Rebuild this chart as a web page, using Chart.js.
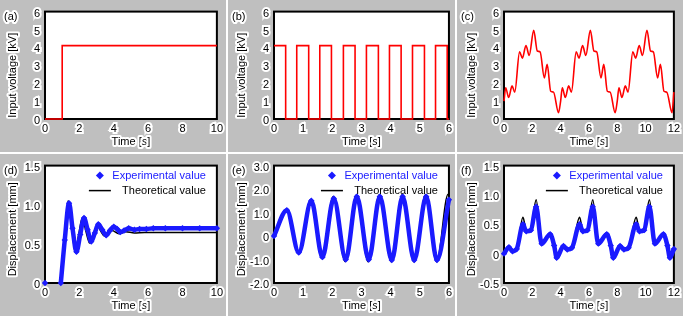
<!DOCTYPE html>
<html><head><meta charset="utf-8">
<script src="https://cdn.jsdelivr.net/npm/chart.js@4.4.1/dist/chart.umd.min.js"></script>
<style>
html,body{margin:0;padding:0;background:#fff;width:685px;height:316px;overflow:hidden}
.p{position:absolute;background:#bfbfbf}
canvas{position:absolute;left:0;top:0}
</style></head><body>
<div class="p" style="left:0px;top:0px;width:226px;height:152px"><canvas id="ca" width="226" height="152"></canvas></div>
<div class="p" style="left:228px;top:0px;width:227px;height:152px"><canvas id="cb" width="227" height="152"></canvas></div>
<div class="p" style="left:457px;top:0px;width:226px;height:152px"><canvas id="cc" width="226" height="152"></canvas></div>
<div class="p" style="left:0px;top:154px;width:226px;height:162px"><canvas id="cd" width="226" height="162"></canvas></div>
<div class="p" style="left:228px;top:154px;width:227px;height:162px"><canvas id="ce" width="227" height="162"></canvas></div>
<div class="p" style="left:457px;top:154px;width:226px;height:162px"><canvas id="cf" width="226" height="162"></canvas></div>
<script>
// ---------- tick labels ----------
const voltTicks = ['0','1','2','3','4','5','6'];
const time10Ticks = ['0','2','4','6','8','10'];
const time6Ticks = ['0','1','2','3','4','5','6'];
const time12Ticks = ['0','2','4','6','8','10','12'];
const dispDTicks = ['0','0.5','1.0','1.5'];
const dispETicks = ['-2.0','-1.0','0','1.0','2.0','3.0'];
const dispFTicks = ['-0.5','0','0.5','1.0','1.5'];

// ---------- (a) step input ----------
const aTime = [0, 1, 1, 10];
const aVolt = [0, 0, 4.1, 4.1];

// ---------- (b) square wave input ----------
const bTime = [0, 0.40, 0.40, 0.78, 0.78, 1.19, 1.19, 1.57, 1.57, 1.97, 1.97, 2.38, 2.38, 2.78, 2.78, 3.17, 3.17, 3.58, 3.58, 3.96, 3.96, 4.36, 4.36, 4.75, 4.75, 5.16, 5.16, 5.54, 5.54, 5.94, 5.94, 6.0];
const bVolt = [4.1, 4.1, 0, 0, 4.1, 4.1, 0, 0, 4.1, 4.1, 0, 0, 4.1, 4.1, 0, 0, 4.1, 4.1, 0, 0, 4.1, 4.1, 0, 0, 4.1, 4.1, 0, 0, 4.1, 4.1, 0, 0];

// ---------- (c) complex input ----------
const cTime = [0, 0.12, 0.33, 0.57, 0.76, 1.10, 1.30, 1.55, 1.78, 2.10, 2.35, 2.55, 2.85, 3.05, 3.30, 3.50, 3.85,
               4.00, 4.12, 4.33, 4.57, 4.76, 5.10, 5.30, 5.55, 5.78, 6.10, 6.35, 6.55, 6.85, 7.05, 7.30, 7.50, 7.85,
               8.00, 8.12, 8.33, 8.57, 8.76, 9.10, 9.30, 9.55, 9.78, 10.10, 10.35, 10.55, 10.85, 11.05, 11.30, 11.50, 11.87, 12.0];
const cVolt = [1.0, 1.75, 1.2, 1.85, 1.5, 3.75, 3.4, 4.1, 3.55, 4.95, 3.8, 3.75, 2.3, 3.05, 1.55, 1.5, 0.35,
               1.0, 1.75, 1.2, 1.85, 1.5, 3.75, 3.4, 4.1, 3.55, 4.95, 3.8, 3.75, 2.3, 3.05, 1.55, 1.5, 0.35,
               1.0, 1.75, 1.2, 1.85, 1.5, 3.75, 3.4, 4.1, 3.55, 4.95, 3.8, 3.75, 2.3, 3.05, 1.55, 1.5, 0.35, 1.5];

// ---------- (d) step response ----------
const dExpTime = [0, 0.46, 0.92, 1.15, 1.40, 1.60, 1.83, 2.05, 2.27, 2.48, 2.69, 2.90, 3.10, 3.33, 3.56, 3.78, 4.00, 4.20, 4.38, 4.60, 4.87, 5.20, 5.50, 5.90, 6.30, 7.0, 8.0, 9.0, 10.0];
const dExpDisp = [0, null, 0, 0.55, 1.02, 0.70, 0.40, 0.62, 0.83, 0.68, 0.53, 0.64, 0.75, 0.68, 0.61, 0.67, 0.72, 0.69, 0.65, 0.67, 0.70, 0.68, 0.69, 0.69, 0.70, 0.70, 0.70, 0.70, 0.70];
const dTheoTime = [0, 0.95, 1.15, 1.35, 1.55, 1.75, 1.96, 2.17, 2.38, 2.60, 2.82, 3.04, 3.25, 3.45, 3.70, 3.90, 4.30, 4.70, 5.20, 5.80, 7.0, 10.0];
const dTheoDisp = [0, 0, 0.60, 1.05, 0.75, 0.40, 0.62, 0.83, 0.66, 0.51, 0.63, 0.73, 0.66, 0.60, 0.65, 0.67, 0.63, 0.655, 0.64, 0.645, 0.645, 0.645];

// ---------- (e) square-wave response ----------
const eExpTime = [0, 0.44, 0.85, 1.28, 1.66, 2.05, 2.46, 2.84, 3.25, 3.63, 4.04, 4.41, 4.81, 5.22, 5.59, 6.0];
const eExpDisp = [0, 1.10, -0.70, 1.50, -0.90, 1.60, -1.00, 1.68, -1.00, 1.68, -1.02, 1.68, -1.02, 1.68, -1.02, 1.55];
const eTheoTime = [0, 0.43, 0.83, 1.26, 1.64, 2.03, 2.44, 2.82, 3.23, 3.61, 4.02, 4.40, 4.80, 5.20, 5.58, 5.97, 6.0];
const eTheoDisp = [0, 1.12, -0.72, 1.55, -0.95, 1.68, -1.08, 1.75, -1.10, 1.76, -1.10, 1.77, -1.10, 1.77, -1.10, 1.78, 1.77];

// ---------- (f) complex response ----------
const fExpTime = [0, 0.35, 0.60, 0.90, 1.34, 1.57, 1.90, 2.27, 2.66, 3.26, 3.54, 3.72,
                  4.20, 4.47, 4.80, 5.34, 5.57, 5.90, 6.27, 6.66, 7.26, 7.54, 7.72,
                  8.20, 8.47, 8.80, 9.34, 9.57, 9.90, 10.27, 10.66, 11.26, 11.54, 11.72, 12.0];
const fExpDisp = [0, 0.11, 0.04, 0.08, 0.50, 0.38, 0.40, 0.80, 0.17, 0.33, 0.14, -0.07,
                  0.13, 0.07, 0.10, 0.50, 0.38, 0.40, 0.80, 0.17, 0.33, 0.14, -0.07,
                  0.13, 0.07, 0.10, 0.50, 0.38, 0.40, 0.80, 0.17, 0.33, 0.14, -0.07, 0.08];
const fTheoTime = [0, 0.35, 0.60, 0.90, 1.34, 1.57, 1.90, 2.27, 2.66, 3.26, 3.54, 3.72,
                   4.20, 4.47, 4.80, 5.34, 5.57, 5.90, 6.27, 6.66, 7.26, 7.54, 7.72,
                   8.20, 8.47, 8.80, 9.34, 9.57, 9.90, 10.27, 10.66, 11.26, 11.54, 11.72, 12.0];
const fTheoDisp = [0, 0.11, 0.04, 0.08, 0.62, 0.40, 0.42, 0.92, 0.17, 0.35, 0.14, -0.07,
                   0.13, 0.07, 0.10, 0.62, 0.40, 0.42, 0.92, 0.17, 0.35, 0.14, -0.07,
                   0.13, 0.07, 0.10, 0.62, 0.40, 0.42, 0.92, 0.17, 0.35, 0.14, -0.07, 0.08];

// ---------- helpers ----------
const FONT = "'Liberation Sans', Arial, Helvetica, sans-serif";
const RED = '#ff0000', BLUE = '#1a1aff', BLACK = '#000000';
function pts(t, v) { return t.map((x, i) => ({ x: x, y: v[i] })); }

function halo(ctx, text, x, y, color) {
  ctx.lineJoin = 'round';
  ctx.lineWidth = 4;
  ctx.strokeStyle = '#ffffff';
  ctx.strokeText(text, x, y);
  ctx.fillStyle = color;
  ctx.fillText(text, x, y);
}

const deco = {
  id: 'deco',
  beforeDatasetsDraw(chart) {
    const a = chart.chartArea, c = chart.ctx;
    c.save();
    c.fillStyle = '#ffffff';
    c.fillRect(a.left, a.top, a.right - a.left, a.bottom - a.top);
    c.lineWidth = 2;
    c.strokeStyle = '#000';
    c.strokeRect(a.left, a.top, a.right - a.left, a.bottom - a.top);
    c.restore();
  },
  afterDraw(chart, args, o) {
    const a = chart.chartArea, c = chart.ctx;
    c.save();
    c.font = '11px ' + FONT;
    c.textBaseline = 'middle';
    // panel label
    c.textAlign = 'left';
    halo(c, o.label, 4, a.top + 5, '#000');
    // x title: Time [s] with italic s
    const p1 = 'Time [', p2 = 's', p3 = ']';
    c.font = '11px ' + FONT;
    const w1 = c.measureText(p1).width, w3 = c.measureText(p3).width;
    c.font = 'italic 11px ' + FONT;
    const w2 = c.measureText(p2).width;
    const tw = w1 + w2 + w3;
    let x = (a.left + a.right) / 2 - tw / 2;
    const y = a.bottom + 23;
    c.font = '11px ' + FONT; halo(c, p1, x, y, '#000'); x += w1;
    c.font = 'italic 11px ' + FONT; halo(c, p2, x, y, '#000'); x += w2;
    c.font = '11px ' + FONT; halo(c, p3, x, y, '#000');
    // y title
    c.save();
    c.translate(a.left - 32, (a.top + a.bottom) / 2 + o.yShift);
    c.rotate(-Math.PI / 2);
    c.textAlign = 'center';
    c.font = '11px ' + FONT;
    halo(c, o.yTitle, 0, 0, '#000');
    c.restore();
    // legend
    if (o.legend) {
      const r = a.right;
      const y1 = a.top + 10, y2 = a.top + 25;
      c.fillStyle = BLUE;
      const mx = r - 117, s = 4;
      c.beginPath();
      c.moveTo(mx, y1 - s); c.lineTo(mx + s, y1); c.lineTo(mx, y1 + s); c.lineTo(mx - s, y1); c.closePath();
      c.fill();
      c.textAlign = 'right';
      c.font = '11px ' + FONT;
      c.fillStyle = BLUE;
      c.fillText('Experimental value', r - 11, y1 + 0.5);
      c.strokeStyle = BLACK; c.lineWidth = 1.5;
      c.beginPath(); c.moveTo(r - 128, y2); c.lineTo(r - 106, y2); c.stroke();
      c.fillStyle = BLACK;
      c.fillText('Theoretical value', r - 11, y2 + 0.5);
    }
    c.restore();
  }
};

function axis(min, max, step, labels, fit, isY) {
  return {
    type: 'linear', min: min, max: max,
    ticks: {
      stepSize: step, autoSkip: false, maxRotation: 0,
      color: '#000', font: { family: FONT, size: 11 },
      textStrokeColor: '#ffffff', textStrokeWidth: 4,
      padding: isY ? 5 : 3,
      labelOffset: isY ? 2 : 0,
      callback: (v, i) => labels[i]
    },
    grid: { display: false, drawTicks: false },
    border: { display: false },
    afterFit: s => { if (isY) s.width = fit; else s.height = fit; }
  };
}

function make(id, datasets, xs, ys, pad, deco_opts) {
  new Chart(document.getElementById(id), {
    type: 'line',
    data: { datasets: datasets },
    options: {
      responsive: false, animation: false,
      layout: { autoPadding: false, padding: pad },
      plugins: { legend: { display: false }, tooltip: { enabled: false }, deco: deco_opts },
      scales: { x: xs, y: ys }
    },
    plugins: [deco]
  });
}

function redLine(t, v, smooth) {
  return { data: pts(t, v), borderColor: RED, borderWidth: 1.6, pointRadius: 0, fill: false,
           cubicInterpolationMode: smooth ? 'monotone' : 'default', tension: 0, clip: 3 };
}
function expSet(t, v) {
  return { data: pts(t, v), borderColor: BLUE, backgroundColor: BLUE, borderWidth: 4.5,
           pointStyle: 'rectRot', pointRadius: 3.2, pointBorderWidth: 0, spanGaps: false,
           cubicInterpolationMode: 'monotone', fill: false, clip: 4, order: 0 };
}
function theoSet(t, v) {
  return { data: pts(t, v), borderColor: BLACK, borderWidth: 1.5, pointRadius: 0,
           cubicInterpolationMode: 'monotone', fill: false, clip: 3, order: 1 };
}

make('ca', [redLine(aTime, aVolt, false)],
  axis(0, 10, 2, time10Ticks, 33, false), axis(0, 6, 1, voltTicks, 45, true),
  { top: 6, right: 7, left: 0, bottom: 0 }, { label: '(a)', yTitle: 'Input voltage [kV]', yShift: 10, legend: false });
make('cb', [redLine(bTime, bVolt, false)],
  axis(0, 6, 1, time6Ticks, 33, false), axis(0, 6, 1, voltTicks, 46, true),
  { top: 6, right: 6, left: 0, bottom: 0 }, { label: '(b)', yTitle: 'Input voltage [kV]', yShift: 10, legend: false });
make('cc', [redLine(cTime, cVolt, true)],
  axis(0, 12, 2, time12Ticks, 33, false), axis(0, 6, 1, voltTicks, 47, true),
  { top: 6, right: 5, left: 0, bottom: 0 }, { label: '(c)', yTitle: 'Input voltage [kV]', yShift: 10, legend: false });
make('cd', [expSet(dExpTime, dExpDisp), theoSet(dTheoTime, dTheoDisp)],
  axis(0, 10, 2, time10Ticks, 33, false), axis(0, 1.5, 0.5, dispDTicks, 45, true),
  { top: 7, right: 7, left: 0, bottom: 0 }, { label: '(d)', yTitle: 'Displacement [mm]', yShift: 5, legend: true });
make('ce', [expSet(eExpTime, eExpDisp), theoSet(eTheoTime, eTheoDisp)],
  axis(0, 6, 1, time6Ticks, 33, false), axis(-2, 3, 1, dispETicks, 46, true),
  { top: 7, right: 6, left: 0, bottom: 0 }, { label: '(e)', yTitle: 'Displacement [mm]', yShift: 5, legend: true });
make('cf', [expSet(fExpTime, fExpDisp), theoSet(fTheoTime, fTheoDisp)],
  axis(0, 12, 2, time12Ticks, 33, false), axis(-0.5, 1.5, 0.5, dispFTicks, 47, true),
  { top: 7, right: 5, left: 0, bottom: 0 }, { label: '(f)', yTitle: 'Displacement [mm]', yShift: 5, legend: true });
</script>
</body></html>
